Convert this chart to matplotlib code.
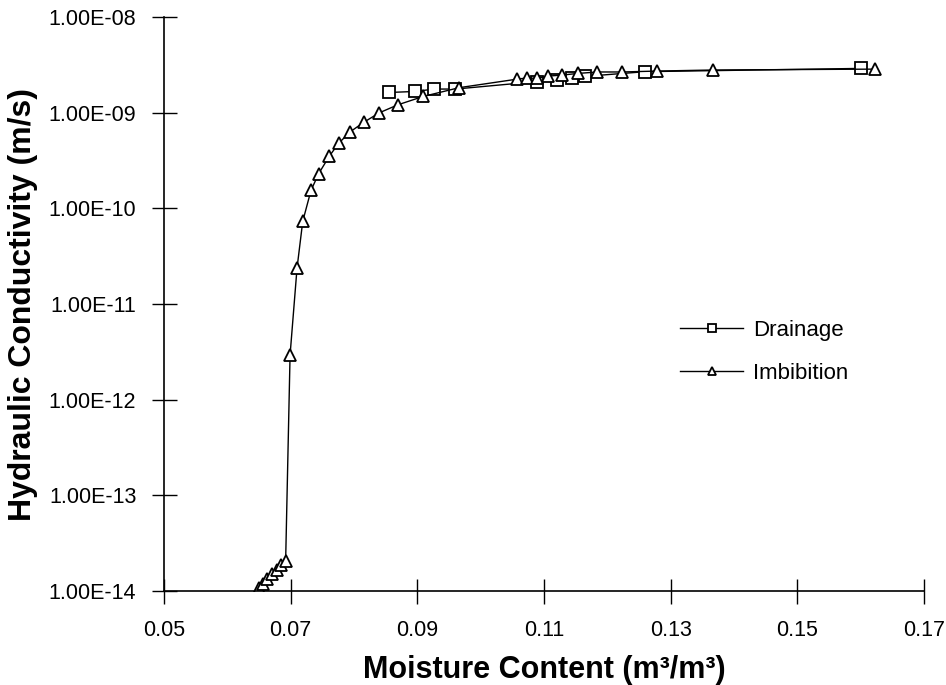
import matplotlib.pyplot as plt
from matplotlib.ticker import FixedLocator, FuncFormatter, NullLocator

plt.rcParams['font.family'] = ['Liberation Sans', 'DejaVu Sans']

# Drainage (squares)
drain_theta = [0.0855, 0.0896, 0.0927, 0.0960, 0.1089, 0.1120, 0.1144, 0.1164, 0.1260, 0.1601]
drain_k = [1.63e-9, 1.67e-9, 1.77e-9, 1.77e-9, 2.12e-9, 2.18e-9, 2.31e-9, 2.40e-9, 2.69e-9, 2.91e-9]

# Imbibition (triangles)
imb_theta = [0.0650, 0.0656, 0.0663, 0.0671, 0.0678, 0.0685, 0.0692, 0.0699, 0.0710, 0.0719,
             0.0732, 0.0744, 0.0761, 0.0776, 0.0794, 0.0816, 0.0840, 0.0869, 0.0909, 0.0966,
             0.1058, 0.1073, 0.1089, 0.1107, 0.1129, 0.1154, 0.1184, 0.1223, 0.1279, 0.1367,
             0.1622]
imb_k = [1.07e-14, 1.17e-14, 1.32e-14, 1.50e-14, 1.66e-14, 1.86e-14, 2.06e-14, 2.94e-12, 2.38e-11, 7.33e-11,
         1.54e-10, 2.30e-10, 3.52e-10, 4.82e-10, 6.33e-10, 8.00e-10, 1.00e-9, 1.21e-9, 1.48e-9, 1.83e-9,
         2.25e-9, 2.31e-9, 2.29e-9, 2.42e-9, 2.48e-9, 2.58e-9, 2.67e-9, 2.67e-9, 2.73e-9, 2.80e-9,
         2.86e-9]

x_ticks = [0.05, 0.07, 0.09, 0.11, 0.13, 0.15, 0.17]
y_ticks = [1e-14, 1e-13, 1e-12, 1e-11, 1e-10, 1e-9, 1e-8]

fig = plt.figure(figsize=(9.46, 6.85), dpi=100)
ax = fig.add_axes([0.1734, 0.1372, 0.8034, 0.8378])

ax.plot(drain_theta, drain_k, color='black', linewidth=1.0, marker='s', markersize=8,
        markerfacecolor='white', markeredgecolor='black', markeredgewidth=1.3, label='Drainage')
ax.plot(imb_theta, imb_k, color='black', linewidth=1.0, marker='^', markersize=8,
        markerfacecolor='white', markeredgecolor='black', markeredgewidth=1.3, label='Imbibition')

ax.set_yscale('log')
ax.set_xlim(0.05, 0.17)
ax.set_ylim(1e-14, 1e-8)
ax.xaxis.set_major_locator(FixedLocator(x_ticks))
ax.yaxis.set_major_locator(FixedLocator(y_ticks))
ax.yaxis.set_minor_locator(NullLocator())
ax.xaxis.set_major_formatter(FuncFormatter(lambda v, p: f'{v:.2f}'))
ax.yaxis.set_major_formatter(FuncFormatter(lambda v, p: f'{v:.2E}'))

ax.spines['top'].set_visible(False)
ax.spines['right'].set_visible(False)
for s in ['left', 'bottom']:
    ax.spines[s].set_linewidth(1.2)
ax.tick_params(axis='both', direction='inout', length=18, width=1.0, labelsize=15.5)
ax.tick_params(axis='x', pad=12)
ax.tick_params(axis='y', pad=11)

ax.set_xlabel('Moisture Content (m³/m³)', fontsize=22, fontweight='bold', labelpad=10)
ax.set_ylabel('Hydraulic Conductivity (m/s)', fontsize=23, fontweight='bold', labelpad=8)

ax.legend(loc='center left', bbox_to_anchor=(0.679, 0.417), frameon=False, fontsize=16,
          handlelength=2.85, handletextpad=0.45, labelspacing=1.0, markerscale=0.7,
          borderpad=0, borderaxespad=0)

fig.savefig('out.png', dpi=100)
